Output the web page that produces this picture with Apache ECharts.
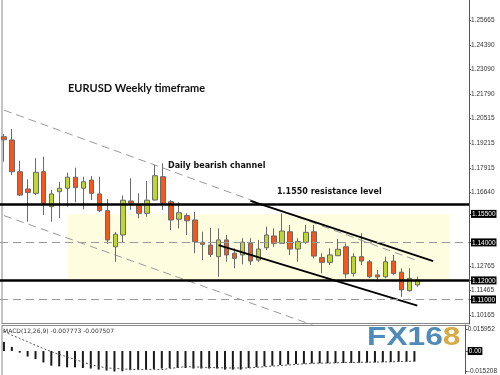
<!DOCTYPE html>
<html><head><meta charset="utf-8">
<script src="https://cdn.jsdelivr.net/npm/echarts@6/dist/echarts.min.js"></script>
<style>html,body{margin:0;padding:0;background:#fff}#c{width:500px;height:375px}</style>
</head><body><div id="c"></div>
<script>
// weekly slots (53 candles + empty future slots)
const categories = Array.from({length: 59}, (_, i) => 'W' + (i + 1));

const openP = [1.1956,1.1939,1.1772,1.1681,1.1658,1.1772,1.1588,1.1667,1.1685,1.1743,
  1.1685,1.1728,1.1655,1.1567,1.1377,1.1439,1.1618,1.1597,1.1553,1.1623,
  1.1746,1.1614,1.1522,1.1541,1.1518,1.1401,1.1386,1.1325,1.1413,1.1343,
  1.1334,1.1395,1.1307,1.1372,1.1434,1.1395,1.1456,1.1365,1.1401,1.1456,
  1.1320,1.1295,1.1330,1.1377,1.1237,1.1325,1.1298,1.1229,1.1219,1.1302,
  1.1243,1.1146,1.1176];
const closeP = [1.1940,1.1772,1.1649,1.1662,1.1769,1.1606,1.1655,1.1685,1.1743,1.1688,
  1.1719,1.1658,1.1567,1.1413,1.1443,1.1622,1.1606,1.1553,1.1622,1.1751,
  1.1606,1.1518,1.1556,1.1514,1.1404,1.1390,1.1337,1.1413,1.1334,1.1316,
  1.1401,1.1302,1.1365,1.1439,1.1395,1.1460,1.1365,1.1404,1.1453,1.1328,
  1.1295,1.1334,1.1364,1.1234,1.1325,1.1302,1.1219,1.1218,1.1298,1.1237,
  1.1150,1.1211,1.1202];
const lowP = [1.1825,1.1755,1.1644,1.1509,1.1649,1.1544,1.1509,1.1527,1.1588,1.1611,
  1.1574,1.1623,1.1560,1.1392,1.1298,1.1402,1.1571,1.1527,1.1535,1.1621,
  1.1571,1.1465,1.1474,1.1439,1.1343,1.1307,1.1323,1.1219,1.1298,1.1264,
  1.1285,1.1281,1.1298,1.1360,1.1377,1.1393,1.1334,1.1298,1.1392,1.1316,
  1.1237,1.1281,1.1328,1.1211,1.1220,1.1281,1.1211,1.1193,1.1211,1.1229,
  1.1114,1.1141,1.1167];
const highP = [1.1970,1.1997,1.1830,1.1732,1.1843,1.1851,1.1676,1.1719,1.1767,1.1793,
  1.1746,1.1749,1.1746,1.1628,1.1455,1.1647,1.1737,1.1658,1.1723,1.1807,
  1.1816,1.1623,1.1611,1.1553,1.1560,1.1456,1.1476,1.1474,1.1439,1.1369,
  1.1422,1.1422,1.1413,1.1483,1.1474,1.1553,1.1492,1.1422,1.1492,1.1492,
  1.1343,1.1369,1.1418,1.1395,1.1343,1.1448,1.1307,1.1255,1.1325,1.1334,
  1.1264,1.1264,1.1220];

const macdMain = [0.0068,0.0031,-0.0012,-0.0041,-0.0060,-0.0085,-0.0109,-0.0114,-0.0121,-0.0121,
  -0.0126,-0.0130,-0.0138,-0.0145,-0.0152,-0.0150,-0.0142,-0.0138,-0.0138,-0.0133,
  -0.0130,-0.0126,-0.0126,-0.0126,-0.0130,-0.0130,-0.0130,-0.0130,-0.0138,-0.0138,
  -0.0138,-0.0126,-0.0120,-0.0114,-0.0109,-0.0104,-0.0100,-0.0097,-0.0094,-0.0092,
  -0.0091,-0.0091,-0.0090,-0.0089,-0.0088,-0.0087,-0.0086,-0.0085,-0.0083,-0.0082,
  -0.0080,-0.0079,-0.0078];
const macdSignal = [0.0145,0.0118,0.0094,0.0069,0.0043,0.0019,-0.0005,-0.0025,-0.0043,-0.0063,
  -0.0082,-0.0101,-0.0114,-0.0126,-0.0129,-0.0133,-0.0136,-0.0138,-0.0138,-0.0138,
  -0.0138,-0.0130,-0.0123,-0.0116,-0.0118,-0.0120,-0.0122,-0.0124,-0.0125,-0.0126,
  -0.0126,-0.0126,-0.0121,-0.0117,-0.0112,-0.0108,-0.0104,-0.0099,-0.0095,-0.0091,
  -0.0090,-0.0089,-0.0088,-0.0086,-0.0085,-0.0084,-0.0083,-0.0082,-0.0081,-0.0080,
  -0.0078,-0.0077,-0.0075];

const priceTicks = [1.25665,1.24390,1.23090,1.21790,1.20515,1.19215,1.17915,1.16640,
  1.15500,1.14000,1.12765,1.12000,1.11465,1.11000,1.10165];
const boxedLevels = [1.155, 1.14, 1.12, 1.11];
const solidLevels = [1.155, 1.12];
const dashedLevels = [1.14, 1.11];
const macdTicks = [0.015952, 0, -0.015208];

// annotation lines in (week, price)
const upperDashed = [[categories[0], 1.2096], [categories[52], 1.1304]];
const lowerDashed = [[categories[0], 1.1541], [categories[39], 1.0963]];
const upperBlack = [[categories[31], 1.1618], [categories[54], 1.1301]];
const lowerBlack = [[categories[27], 1.1386], [categories[52], 1.1067]];
const zoneCorners = [[categories[8], 1.155], [categories[56], 1.12]];

const candles = openP.map((o, i) => [o, closeP[i], lowP[i], highP[i]]);

const axisFont = {fontSize: 6.5, fontFamily: 'Liberation Sans', color: '#333'};
const chart = echarts.init(document.getElementById('c'));
const dashGray = {color: '#9a9a9a', width: 1, type: [8, 5]};

chart.setOption({
  animation: false,
  backgroundColor: '#fff',
  grid: [
    {left: -2, top: 0, width: 471, height: 324},
    {left: -2, top: 325, width: 471, height: 50}
  ],
  xAxis: [
    {type: 'category', gridIndex: 0, data: categories, boundaryGap: true,
     axisLine: {show: false}, axisTick: {show: false}, axisLabel: {show: false}},
    {type: 'category', gridIndex: 1, data: categories, boundaryGap: true,
     axisLine: {show: false}, axisTick: {show: false}, axisLabel: {show: false}}
  ],
  yAxis: [
    {type: 'value', gridIndex: 0, position: 'right', min: 1.09707, max: 1.26754,
     splitLine: {show: false},
     axisLine: {show: true, lineStyle: {color: '#555', width: 1}},
     axisTick: {show: true, length: 2, customValues: priceTicks, lineStyle: {color: '#555'}},
     axisLabel: Object.assign({}, axisFont, {
       margin: 2, customValues: priceTicks,
       formatter: v => boxedLevels.some(b => Math.abs(b - v) < 1e-7) ? '{b|' + v.toFixed(5) + '}' : v.toFixed(5),
       rich: {b: {backgroundColor: '#000', color: '#fff', fontSize: 6.5, fontFamily: 'Liberation Sans', padding: [1, 1, 0, 1]}}
     })},
    {type: 'value', gridIndex: 1, position: 'right', min: -0.01688, max: 0.01935,
     splitLine: {show: false},
     axisLine: {show: true, lineStyle: {color: '#555', width: 1}},
     axisTick: {show: true, length: 2, customValues: macdTicks, lineStyle: {color: '#555'}},
     axisLabel: Object.assign({}, axisFont, {
       margin: 2, customValues: macdTicks,
       formatter: v => v === 0 ? '{b|0.00}' : v.toFixed(6),
       rich: {b: {backgroundColor: '#000', color: '#fff', fontSize: 6.5, fontFamily: 'Liberation Sans', padding: [1, 1, 0, 1]}}
     })}
  ],
  series: [
    {type: 'line', xAxisIndex: 0, yAxisIndex: 0, data: [], z: 1, silent: true,
     markArea: {silent: true, itemStyle: {color: '#FFFDE0'},
       data: [[{xAxis: zoneCorners[0][0], yAxis: zoneCorners[0][1]}, {xAxis: zoneCorners[1][0], yAxis: zoneCorners[1][1]}]]},
     markLine: {silent: true, symbol: ['none', 'none'], label: {show: false}, lineStyle: dashGray,
       data: dashedLevels.map(v => ({yAxis: v}))}},
    {type: 'line', xAxisIndex: 0, yAxisIndex: 0, data: upperDashed, symbol: 'none', z: 2, lineStyle: dashGray},
    {type: 'line', xAxisIndex: 0, yAxisIndex: 0, data: lowerDashed, symbol: 'none', z: 2, lineStyle: dashGray},
    {type: 'candlestick', xAxisIndex: 0, yAxisIndex: 0, data: candles, barWidth: 5, z: 3,
     itemStyle: {color: '#BDD632', color0: '#F4561C', borderColor: '#6a6a6a', borderColor0: '#6a6a6a', borderWidth: 1}},
    {type: 'line', xAxisIndex: 0, yAxisIndex: 0, data: upperBlack, symbol: 'none', z: 4, lineStyle: {color: '#000', width: 1.8}},
    {type: 'line', xAxisIndex: 0, yAxisIndex: 0, data: lowerBlack, symbol: 'none', z: 4, lineStyle: {color: '#000', width: 1.8}},
    {type: 'line', xAxisIndex: 0, yAxisIndex: 0, data: [], z: 5, silent: true,
     markLine: {silent: true, symbol: ['none', 'none'], label: {show: false},
       lineStyle: {color: '#000', width: 2.6, type: 'solid'},
       data: solidLevels.map(v => ({yAxis: v}))}},
    {type: 'bar', xAxisIndex: 1, yAxisIndex: 1, data: macdMain, barWidth: 2, itemStyle: {color: '#1a1a1a'}},
    {type: 'line', xAxisIndex: 1, yAxisIndex: 1, data: macdSignal, symbol: 'none', z: 3,
     lineStyle: {color: '#555', width: 1, type: [2, 2]}}
  ],
  graphic: [
    {type: 'line', shape: {x1: 2, y1: 0, x2: 2, y2: 324}, style: {stroke: '#888', lineWidth: 1}},
    {type: 'line', shape: {x1: 2, y1: 323.5, x2: 469, y2: 323.5}, style: {stroke: '#888', lineWidth: 1}},
    {type: 'line', shape: {x1: 2, y1: 325.5, x2: 469, y2: 325.5}, style: {stroke: '#888', lineWidth: 1}},
    {type: 'line', shape: {x1: 2, y1: 325, x2: 2, y2: 375}, style: {stroke: '#888', lineWidth: 1}},
    {type: 'text', x: 68, y: 88, style: {text: 'EURUSD Weekly timeframe', fontSize: 11, fontWeight: 'bold', fontFamily: 'Lato', fill: '#111', verticalAlign: 'middle'}},
    {type: 'text', x: 168, y: 166, z: 10, style: {text: 'Daily bearish channel', fontSize: 8, fontWeight: 'bold', fontFamily: 'DejaVu Sans', fill: '#111', verticalAlign: 'middle'}},
    {type: 'text', x: 277, y: 192, z: 10, style: {text: '1.1550 resistance level', fontSize: 8, fontWeight: 'bold', fontFamily: 'DejaVu Sans', fill: '#111', verticalAlign: 'middle'}},
    {type: 'text', x: 3, y: 331, z: 10, style: {text: 'MACD(12,26,9) -0.007773 -0.007507', fontSize: 6, fontFamily: 'DejaVu Sans', fill: '#333', verticalAlign: 'middle'}},
    {type: 'text', x: 367, y: 338, scaleX: 1.22, z: 10, style: {text: '{a|FX16}{b|8}', fontSize: 26, fontWeight: 'bold', fontFamily: 'Liberation Sans', verticalAlign: 'middle',
      rich: {a: {fill: '#4f8bb9', fontSize: 26, fontWeight: 'bold', fontFamily: 'Liberation Sans'}, b: {fill: '#d6aa45', fontSize: 26, fontWeight: 'bold', fontFamily: 'Liberation Sans'}}}}
  ]
});
</script>
</body></html>
